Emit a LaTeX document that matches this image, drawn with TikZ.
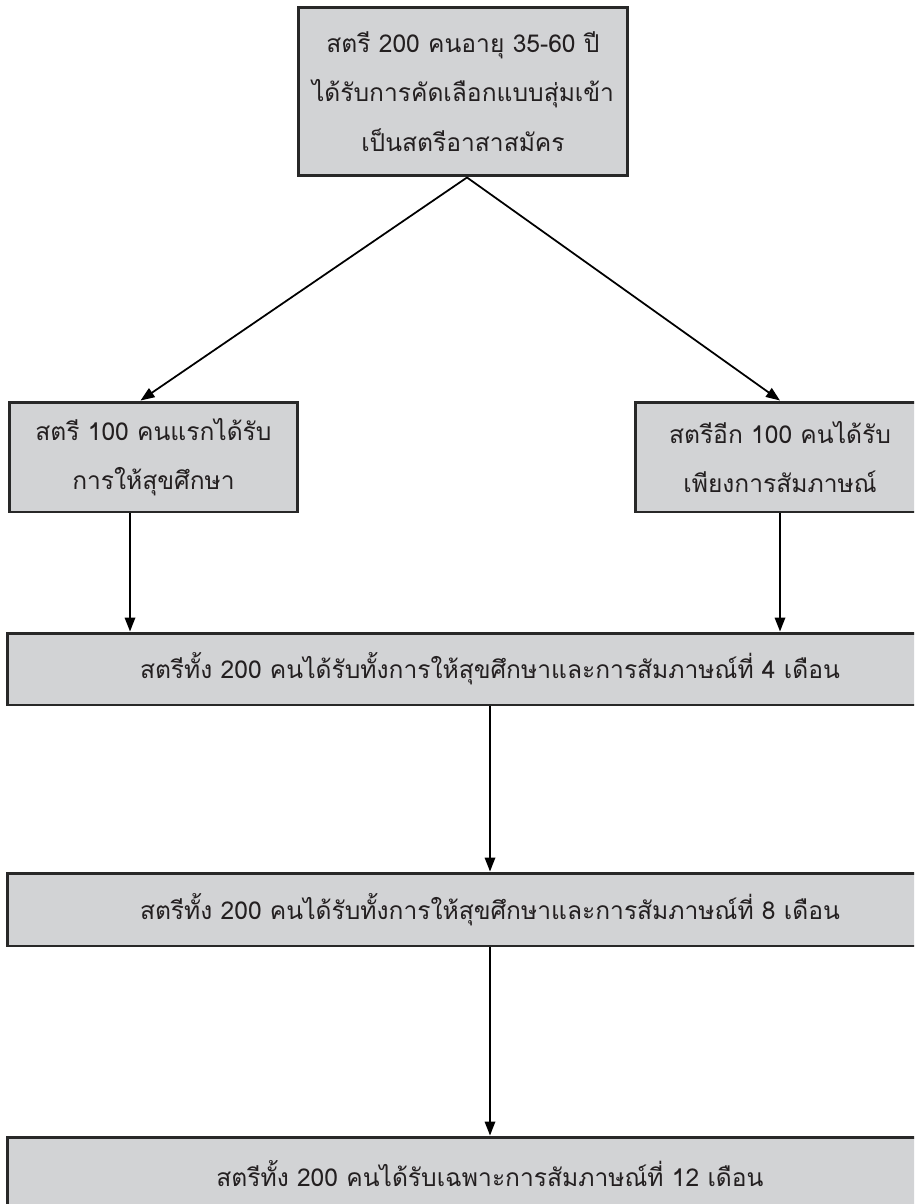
\documentclass[tikz,border=0pt]{standalone}
\usepackage{fontspec}
\newfontfamily\thaifont[Script=Thai]{Loma}
\usetikzlibrary{arrows.meta}
\definecolor{boxgray}{RGB}{210,211,213}
\definecolor{boxline}{RGB}{40,40,40}
\definecolor{inkgray}{RGB}{35,31,32}
\begin{document}
\begin{tikzpicture}
[x=0.02cm,y=-0.02cm,
  boxdecorate/.style={shape=rectangle,draw=boxline,line width=1.7pt,fill=boxgray,
    text=inkgray,align=center,inner sep=0pt,
    font=\thaifont\fontsize{14}{28}\selectfont},%
  arrowdecorate/.style={-{Triangle[length=0.28cm,width=0.21cm]},line width=1pt,draw=black}]
\clip (0,0) rectangle (914,1204);
\fill[white] (0,0) rectangle (914,1204);
%%% study flow
% boxes
\node (top) at (463,91.5) [boxdecorate,minimum width=6.6cm,minimum height=3.38cm]
  {สตรี 200 คนอายุ 35-60 ปี\\ได้รับการคัดเลือกแบบสุ่มเข้า\\เป็นสตรีอาสาสมัคร};
\node (left) at (153.5,457) [boxdecorate,minimum width=5.78cm,minimum height=2.2cm]
  {สตรี 100 คนแรกได้รับ\\การให้สุขศึกษา};
\node (right) at (780,457) [boxdecorate,minimum width=5.8cm,minimum height=2.2cm]
  {สตรีอีก 100 คนได้รับ\\เพียงการสัมภาษณ์};
\node (four) at (490,669) [boxdecorate,minimum width=19.3cm,minimum height=1.44cm]
  {สตรีทั้ง 200 คนได้รับทั้งการให้สุขศึกษาและการสัมภาษณ์ที่ 4 เดือน};
\node (eight) at (490,909.5) [boxdecorate,minimum width=19.3cm,minimum height=1.46cm]
  {สตรีทั้ง 200 คนได้รับทั้งการให้สุขศึกษาและการสัมภาษณ์ที่ 8 เดือน};
\node (twelve) at (490,1173.5) [boxdecorate,minimum width=19.3cm,minimum height=1.46cm]
  {สตรีทั้ง 200 คนได้รับเฉพาะการสัมภาษณ์ที่ 12 เดือน};
% arrows
\path
([xshift=0.08cm]top.south) edge[arrowdecorate] ([xshift=-0.26cm]left.north)
([xshift=0.08cm]top.south) edge[arrowdecorate] (right.north)
([xshift=-0.47cm]left.south) edge[arrowdecorate] ([xshift=-0.47cm]left.south |- four.north)
(right.south) edge[arrowdecorate] (right.south |- four.north)
(four.south) edge[arrowdecorate] (eight.north)
(eight.south) edge[arrowdecorate] (twelve.north);
\end{tikzpicture}
\end{document}
